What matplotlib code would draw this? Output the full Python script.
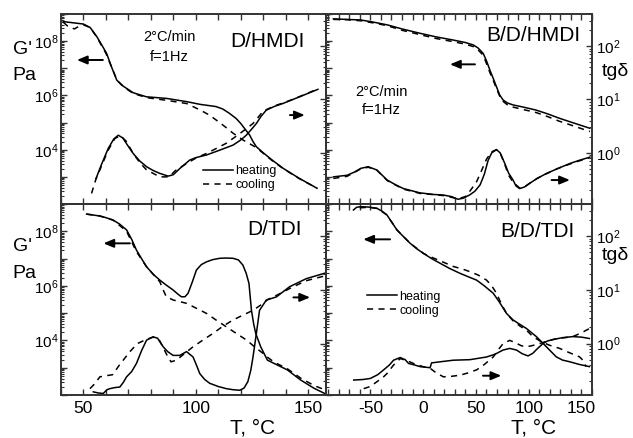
import numpy as np
import matplotlib
matplotlib.use('Agg')
import matplotlib.pyplot as plt
from matplotlib.ticker import MultipleLocator, FixedLocator, FuncFormatter, LogLocator, NullFormatter

plt.rcParams['font.family'] = ['Liberation Sans', 'DejaVu Sans']
plt.rcParams['mathtext.fontset'] = 'custom'
plt.rcParams['mathtext.rm'] = 'Liberation Sans'
plt.rcParams['mathtext.it'] = 'Liberation Sans:italic'
plt.rcParams['axes.unicode_minus'] = False

# ---- D/HMDI : log10 G' (Pa) and log10 tg(delta) vs T (deg C) ----
hmdi_T_Gh = [41, 45, 50, 53, 56, 58, 60.3, 62.5, 64.8, 67, 69.2, 72.1, 78, 87, 96, 102, 109,
             112, 115, 118, 120, 124, 125.5, 127, 130, 134, 139, 146, 154]
hmdi_G_h = [8.72, 8.68, 8.63, 8.50, 8.16, 7.88, 7.55, 7.05, 6.57, 6.38, 6.26, 6.10, 5.95, 5.89,
            5.77, 5.67, 5.59, 5.50, 5.34, 5.15, 4.97, 4.54, 4.30, 4.11, 3.89, 3.62, 3.31, 2.95, 2.58]
hmdi_T_Gc = [41, 43, 46, 48, 50, 53, 56, 60, 65, 69, 72, 78, 87, 96, 102, 106, 109, 113, 116.6,
             121, 125.5, 127, 130, 134, 139, 146, 154]
hmdi_G_c = [8.70, 8.55, 8.45, 8.55, 8.60, 8.50, 8.14, 7.55, 6.55, 6.25, 6.08, 5.92, 5.82, 5.70,
            5.46, 5.28, 5.10, 4.85, 4.61, 4.36, 4.15, 4.08, 3.87, 3.60, 3.30, 2.94, 2.58]
hmdi_T_th = [55.6, 58, 61, 63.5, 65.5, 67.5, 70, 72.1, 75, 78.1, 81, 84, 87.7, 90, 93, 97.3, 100,
             104.8, 110, 116.6, 120, 122.5, 125, 127, 129, 131.4, 135, 138.8, 146.2, 154.4]
hmdi_t_h = [-0.48, -0.22, 0.08, 0.26, 0.33, 0.28, 0.12, -0.01, -0.15, -0.26, -0.33, -0.385, -0.436,
            -0.41, -0.29, -0.136, -0.09, -0.04, 0.04, 0.145, 0.24, 0.33, 0.45, 0.55, 0.68, 0.80,
            0.87, 0.925, 1.05, 1.19]
hmdi_T_tc = [53.6, 55.5, 58, 61, 64, 66.5, 69, 72, 75, 78.1, 84, 88, 91, 95.9, 100, 104.8, 110,
             113.6, 119.6, 125.5, 130, 135, 140, 146, 154.4]
hmdi_t_c = [-0.76, -0.50, -0.25, 0.05, 0.27, 0.32, 0.22, 0.0, -0.18, -0.32, -0.45, -0.45, -0.33,
            -0.20, -0.10, -0.01, 0.10, 0.18, 0.36, 0.55, 0.78, 0.88, 0.95, 1.05, 1.20]

# ---- B/D/HMDI ----
bhmdi_T_G = [-85, -72, -59, -47, -34, -20, -3, 12, 28.6, 40, 47.5, 52, 56.9, 60, 63.2, 66.5, 69.5,
             72.5, 75.8, 80, 85.2, 95, 107, 118, 129, 143, 158]
bhmdi_G_h = [8.82, 8.80, 8.78, 8.70, 8.60, 8.45, 8.29, 8.16, 8.04, 7.95, 7.86, 7.75, 7.55, 7.28,
             6.94, 6.62, 6.32, 6.02, 5.83, 5.72, 5.65, 5.57, 5.46, 5.32, 5.16, 4.98, 4.79]
bhmdi_G_c = [8.80, 8.79, 8.75, 8.67, 8.57, 8.40, 8.24, 8.10, 7.98, 7.89, 7.80, 7.68, 7.48, 7.18,
             6.85, 6.55, 6.25, 5.98, 5.78, 5.65, 5.57, 5.48, 5.37, 5.22, 5.05, 4.87, 4.67]
bhmdi_T_th = [-85, -72, -65, -59, -52, -44, -34, -26, -18.6, -3, 10, 19, 27, 33, 38, 44, 49, 54,
              58, 61.6, 65, 69.5, 73, 77.4, 81, 85.2, 88, 91.5, 96, 101, 108, 117, 128, 139, 148, 158]
bhmdi_t_h = [-0.45, -0.42, -0.36, -0.29, -0.26, -0.32, -0.51, -0.60, -0.67, -0.75, -0.78, -0.79,
             -0.82, -0.87, -0.85, -0.79, -0.72, -0.60, -0.40, -0.14, 0.0, 0.06, 0.0, -0.2, -0.38,
             -0.51, -0.62, -0.67, -0.64, -0.57, -0.48, -0.385, -0.29, -0.2, -0.14, -0.08]
bhmdi_T_tc = [-85, -72, -59, -52, -44, -34, -18.6, -3, 19, 33, 40, 45, 50.7, 55, 60, 65, 69.5, 73,
              77.4, 81, 85.2, 91.5, 96, 101, 108, 117, 128, 139, 148, 158]
bhmdi_t_c = [-0.48, -0.44, -0.30, -0.27, -0.32, -0.52, -0.68, -0.76, -0.80, -0.86, -0.82, -0.70,
             -0.54, -0.35, -0.12, 0.02, 0.06, 0.0, -0.22, -0.42, -0.55, -0.66, -0.64, -0.57, -0.48,
             -0.39, -0.29, -0.21, -0.15, -0.09]

# ---- D/TDI ----
tdi_T_Gh = [51.4, 54, 57.3, 60, 63.2, 66, 69.2, 71.5, 73.6, 76, 78.1, 81, 84, 87, 89.9, 92, 93.6,
            95.2, 96.6, 98.5, 100.3, 102.5, 104.8, 107.5, 110.7, 113.5, 116.6, 119, 121, 122.5,
            123.7, 124.8, 125.8, 126.7, 128.9, 131.9, 134.8, 140.8, 146.7, 152.6, 157.8]
tdi_G_h = [8.63, 8.60, 8.56, 8.50, 8.41, 8.27, 8.05, 7.70, 7.31, 6.98, 6.70, 6.43, 6.21, 6.02,
           5.85, 5.70, 5.60, 5.60, 5.73, 6.15, 6.58, 6.78, 6.88, 6.96, 7.01, 7.02, 7.01, 6.95,
           6.76, 6.45, 6.09, 5.11, 4.60, 4.26, 3.77, 3.28, 3.16, 2.92, 2.55, 2.25, 2.04]
tdi_T_Gc = [51.4, 57.3, 63.2, 69.2, 73.6, 78.1, 81, 84, 85.5, 86.9, 90, 95.9, 100, 104.8, 109,
            113.6, 118, 122.5, 126, 129.9, 132, 135, 140.8, 146.7, 152.6, 157.8]
tdi_G_c = [8.63, 8.56, 8.41, 8.00, 7.25, 6.70, 6.43, 6.15, 5.85, 5.60, 5.48, 5.36, 5.19, 4.99,
           4.75, 4.50, 4.26, 4.02, 3.78, 3.53, 3.38, 3.20, 2.96, 2.62, 2.35, 2.18]
tdi_T_th = [54.4, 56.5, 58.8, 60.5, 61.8, 64, 66.2, 67.8, 69.2, 71.5, 73.6, 76, 78.1, 81, 83,
            85.5, 87.5, 89.9, 92.9, 95.9, 98.8, 100.3, 101.8, 104, 106.2, 110, 113.6, 116.6, 119.6,
            121.5, 123.2, 124.5, 125.5, 127, 128.4, 131.4, 135.9, 141.8, 149.2, 157.3]
tdi_t_h = [-0.90, -0.92, -0.93, -0.86, -0.84, -0.82, -0.81, -0.72, -0.62, -0.52, -0.37, -0.12,
           0.064, 0.126, 0.10, -0.06, -0.15, -0.22, -0.22, -0.15, -0.25, -0.40, -0.56, -0.67,
           -0.74, -0.80, -0.84, -0.86, -0.87, -0.83, -0.71, -0.50, -0.25, 0.19, 0.62, 0.81, 0.87,
           1.06, 1.21, 1.31]
tdi_T_tc = [52.9, 55, 57.3, 60, 63, 66, 70.7, 74, 78.1, 81, 84, 87, 89, 91.4, 94, 98.8, 103, 107.7,
            112, 116.6, 121, 125.5, 129, 132, 136, 142, 149, 157.3]
tdi_t_c = [-0.84, -0.75, -0.62, -0.60, -0.58, -0.40, -0.15, 0.0, 0.08, 0.12, 0.05, -0.2, -0.34,
           -0.31, -0.22, -0.06, 0.06, 0.19, 0.32, 0.44, 0.53, 0.62, 0.72, 0.82, 0.90, 1.03, 1.17, 1.26]

# ---- B/D/TDI ----
btdi_T_Gh = [-66, -63, -59.4, -52, -43.7, -39, -34.3, -30, -24.8, -18, -12.3, -6, 0.3, 8, 16, 25,
             34.9, 43, 50.7, 58, 66.4, 72, 79, 85.2, 92, 97.8, 107.3, 116.7, 126.1, 132, 138.7,
             148, 157.5]
btdi_G_h = [8.78, 8.88, 8.90, 8.89, 8.84, 8.74, 8.60, 8.35, 8.05, 7.78, 7.56, 7.36, 7.19, 7.00,
            6.83, 6.64, 6.46, 6.33, 6.21, 6.00, 5.73, 5.42, 4.99, 4.75, 4.58, 4.44, 4.14, 3.77,
            3.40, 3.28, 3.22, 3.12, 3.04]
btdi_T_Gc = [-60, -52, -43.7, -34.3, -24.8, -12.3, 0.3, 8, 16, 28.6, 37, 44.3, 52, 60.1, 65, 69.5,
             74, 79, 85.2, 92, 97.8, 104, 112, 120, 129.2, 138, 148.1, 152, 154.4]
btdi_G_c = [8.86, 8.88, 8.84, 8.60, 8.05, 7.56, 7.19, 7.05, 6.92, 6.71, 6.62, 6.52, 6.40, 6.21,
            6.00, 5.73, 5.35, 4.99, 4.72, 4.52, 4.38, 4.14, 3.95, 3.82, 3.71, 3.56, 3.40, 3.25, 3.04]
btdi_T_th = [-65.7, -57, -50, -43, -37.4, -32, -28, -21.7, -17, -13.8, -8, -2.8, 6.6, 8, 16, 28.6,
             44.3, 60.1, 68, 75.8, 82.1, 88.4, 94, 99.4, 104, 108, 113.5, 118, 123, 132, 141.8,
             150, 157.5]
btdi_t_h = [-0.68, -0.67, -0.65, -0.58, -0.49, -0.40, -0.31, -0.26, -0.30, -0.37, -0.40, -0.43,
            -0.45, -0.36, -0.34, -0.31, -0.30, -0.25, -0.20, -0.12, -0.09, -0.12, -0.19, -0.23,
            -0.18, -0.10, 0.0, 0.05, 0.075, 0.11, 0.13, 0.12, 0.095]
btdi_T_tc = [-56.3, -50, -43.7, -38, -34.3, -28, -21.7, -15, -8, 0, 6.6, 12, 19.2, 27, 34.9, 42,
             50.7, 58, 66.4, 71, 75.8, 82.1, 88, 93, 97.8, 103, 110.4, 118, 126.1, 134, 141.8,
             150, 157.5]
btdi_t_c = [-0.84, -0.80, -0.71, -0.63, -0.56, -0.40, -0.28, -0.32, -0.38, -0.43, -0.46, -0.54,
            -0.62, -0.61, -0.59, -0.55, -0.49, -0.39, -0.25, -0.12, 0.0, 0.06, 0.01, -0.04, -0.06,
            -0.04, 0.0, 0.05, 0.09, 0.11, 0.13, 0.20, 0.28]

G_LIM = (1e2, 1e9)
TG_LIM = (0.11, 400)
DASH = (0, (4, 3.5))
LW = 1.1
SPINE = '#333333'


def g_decades(v, pos):
    # label only 10^4, 10^6, 10^8
    e = int(round(np.log10(v)))
    return r'$\mathdefault{10^{%d}}$' % e if e in (4, 6, 8) else ''


def all_decades(v, pos):
    return r'$\mathdefault{10^{%d}}$' % int(round(np.log10(v)))


def setup(ax, xlim, xlabels, left_labels, right_labels):
    ax.set_xlim(*xlim)
    ax.set_yscale('log')
    ax.set_ylim(*G_LIM)
    ax2 = ax.twinx()
    ax2.set_yscale('log')
    ax2.set_ylim(*TG_LIM)

    ax.xaxis.set_major_locator(MultipleLocator(50))
    ax.xaxis.set_minor_locator(MultipleLocator(10))
    ax.yaxis.set_major_locator(FixedLocator([10.0 ** k for k in range(2, 10)]))
    ax.yaxis.set_minor_locator(LogLocator(base=10, subs=np.arange(2, 10), numticks=20))
    ax.yaxis.set_major_formatter(FuncFormatter(g_decades))
    ax.yaxis.set_minor_formatter(NullFormatter())
    ax2.yaxis.set_major_locator(FixedLocator([0.1, 1, 10, 100]))
    ax2.yaxis.set_minor_locator(LogLocator(base=10, subs=np.arange(2, 10), numticks=20))
    ax2.yaxis.set_major_formatter(FuncFormatter(all_decades))
    ax2.yaxis.set_minor_formatter(NullFormatter())

    ax.tick_params(axis='x', which='both', direction='in', top=True, length=4, width=1,
                   labelsize=12.5, pad=4, labelbottom=xlabels, color=SPINE)
    ax.tick_params(axis='y', which='major', direction='in', length=4, width=1,
                   labelsize=11, pad=2, labelleft=left_labels, color=SPINE)
    ax.tick_params(axis='y', which='minor', direction='in', length=2, width=0.8, color=SPINE)
    ax2.tick_params(axis='y', which='major', direction='in', length=4, width=1,
                    labelsize=11, pad=3, labelright=right_labels, color=SPINE)
    ax2.tick_params(axis='y', which='minor', direction='in', length=2, width=0.8, color=SPINE)
    for a in (ax, ax2):
        for s in a.spines.values():
            s.set_linewidth(1.2)
            s.set_color(SPINE)
    return ax2


def draw(ax, ax2, Gh, Gc, th, tc):
    l1, = ax.plot(Gh[0], 10.0 ** np.array(Gh[1]), color='k', lw=LW)
    l2, = ax.plot(Gc[0], 10.0 ** np.array(Gc[1]), color='k', lw=LW, ls=DASH)
    ax2.plot(th[0], 10.0 ** np.array(th[1]), color='k', lw=LW)
    ax2.plot(tc[0], 10.0 ** np.array(tc[1]), color='k', lw=LW, ls=DASH)
    return l1, l2


def arrow(ax, x0, x1, y):
    ax.annotate('', xy=(x1, y), xytext=(x0, y), xycoords='axes fraction',
                arrowprops=dict(arrowstyle='-|>,head_length=0.6,head_width=0.25',
                                color='k', lw=1.4, shrinkA=0, shrinkB=0))


fig = plt.figure(figsize=(6.33, 4.38), dpi=100)
W, H = 633.0, 438.0


def axes_px(x0, y0, x1, y1):
    return fig.add_axes([x0 / W, 1 - y1 / H, (x1 - x0) / W, (y1 - y0) / H])


ax_a = axes_px(61, 14, 326, 204)
ax_b = axes_px(326, 14, 592, 204)
ax_c = axes_px(61, 204, 326, 395)
ax_d = axes_px(326, 204, 592, 395)

ax_a2 = setup(ax_a, (40, 158), False, True, False)
ax_b2 = setup(ax_b, (-92, 160), False, False, True)
ax_c2 = setup(ax_c, (40, 158), True, True, False)
ax_d2 = setup(ax_d, (-92, 160), True, False, True)

h_a = draw(ax_a, ax_a2, (hmdi_T_Gh, hmdi_G_h), (hmdi_T_Gc, hmdi_G_c),
           (hmdi_T_th, hmdi_t_h), (hmdi_T_tc, hmdi_t_c))
draw(ax_b, ax_b2, (bhmdi_T_G, bhmdi_G_h), (bhmdi_T_G, bhmdi_G_c),
     (bhmdi_T_th, bhmdi_t_h), (bhmdi_T_tc, bhmdi_t_c))
draw(ax_c, ax_c2, (tdi_T_Gh, tdi_G_h), (tdi_T_Gc, tdi_G_c),
     (tdi_T_th, tdi_t_h), (tdi_T_tc, tdi_t_c))
h_d = draw(ax_d, ax_d2, (btdi_T_Gh, btdi_G_h), (btdi_T_Gc, btdi_G_c),
           (btdi_T_th, btdi_t_h), (btdi_T_tc, btdi_t_c))

# sample names
ax_a2.text(0.92, 0.853, 'D/HMDI', transform=ax_a.transAxes, ha='right', va='center', fontsize=15)
ax_b2.text(0.955, 0.889, 'B/D/HMDI', transform=ax_b.transAxes, ha='right', va='center', fontsize=15)
ax_c2.text(0.908, 0.864, 'D/TDI', transform=ax_c.transAxes, ha='right', va='center', fontsize=15)
ax_d2.text(0.936, 0.855, 'B/D/TDI', transform=ax_d.transAxes, ha='right', va='center', fontsize=15)

# measurement conditions
for a, x, y1, y2 in ((ax_a2, 0.41, 0.879, 0.774), (ax_b2, 0.209, 0.591, 0.495)):
    a.text(x, y1, '2°C/min', transform=a.transAxes, ha='center', va='center', fontsize=10.5)
    a.text(x, y2, 'f=1Hz', transform=a.transAxes, ha='center', va='center', fontsize=10.5)

# arrows pointing to the axis each curve belongs to
arrow(ax_a2, 0.158, 0.06, 0.758)
arrow(ax_a2, 0.864, 0.92, 0.468)
arrow(ax_b2, 0.56, 0.466, 0.735)
arrow(ax_b2, 0.848, 0.917, 0.126)
arrow(ax_c2, 0.26, 0.16, 0.794)
arrow(ax_c2, 0.877, 0.94, 0.511)
arrow(ax_d2, 0.241, 0.14, 0.815)
arrow(ax_d2, 0.59, 0.659, 0.101)

for a, h, anchor in ((ax_a2, h_a, (0.536, 0.205)), (ax_d2, h_d, (0.153, 0.546))):
    a.legend(h, ['heating', 'cooling'], loc='upper left', bbox_to_anchor=anchor,
             frameon=False, fontsize=9, handlelength=2.4, handletextpad=0.2,
             labelspacing=0.15, borderpad=0, borderaxespad=0)

# axis titles
for y in (50, 246.7):
    fig.text(13 / W, 1 - y / H, "G'", ha='left', va='center', fontsize=14)
for y in (76, 273.3):
    fig.text(12 / W, 1 - y / H, 'Pa', ha='left', va='center', fontsize=14)
for y in (72, 255):
    fig.text(615 / W, 1 - y / H, 'tgδ', ha='center', va='center', fontsize=14)
for x in (253, 534):
    fig.text(x / W, 1 - 428 / H, 'T, °C', ha='center', va='center', fontsize=15)

fig.savefig('out.png', dpi=100)
